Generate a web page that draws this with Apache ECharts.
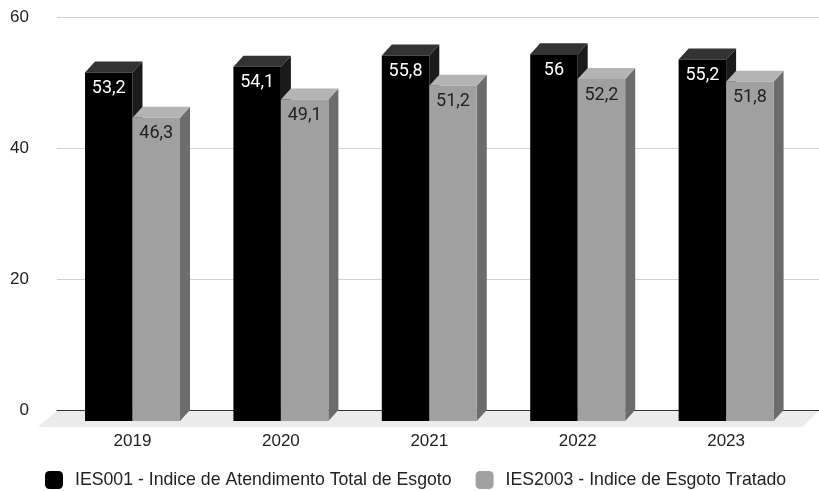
<!DOCTYPE html>
<html>
<head>
<meta charset="utf-8">
<script src="https://cdn.jsdelivr.net/npm/echarts@6/dist/echarts.min.js"></script>
<style>
  html, body { margin: 0; padding: 0; background: #fff; }
  #chart { width: 819px; height: 491px; }
</style>
</head>
<body>
<div id="chart"></div>
<script>
// Chart data
const years = ['2019', '2020', '2021', '2022', '2023'];
const atendimento = [53.2, 54.1, 55.8, 56, 55.2];
const tratado = [46.3, 49.1, 51.2, 52.2, 51.8];
const seriesNames = [
  'IES001 - Indice de Atendimento Total de Esgoto',
  'IES2003 - Indice de Esgoto Tratado'
];
const yTicks = { min: 0, max: 60, interval: 20 };

// 3D extrusion depth (pixels): back plane is offset right/up from the front plane
const DEPTH_X = 10;
const DEPTH_Y = 11;
const AXIS_FONT = '"Liberation Sans", Arial, sans-serif';
const LABEL_FONT = 'Roboto, "Noto Sans", sans-serif';

const palettes = [
  { front: '#000000', top: '#333333', side: '#1a1a1a', label: '#ffffff' },
  { front: '#a0a0a0', top: '#b4b4b4', side: '#6c6c6c', label: '#222222' }
];

function fmt(v) {
  return String(v).replace('.', ',');
}

function makeBarRenderer(seriesIdx) {
  const pal = palettes[seriesIdx];
  return function (params, api) {
    const cat = api.value(0);
    const val = api.value(1);
    const top = api.coord([cat, val]);
    const base = api.coord([cat, 0]);
    const band = api.size([1, 0])[0];
    const w = band * 0.32;
    const x0 = seriesIdx === 0 ? top[0] - w : top[0];
    const x1 = x0 + w;
    const yt = top[1];
    const yb = base[1];
    return {
      type: 'group',
      children: [
        {
          type: 'polygon',
          shape: { points: [[x1, yt], [x1 + DEPTH_X, yt - DEPTH_Y], [x1 + DEPTH_X, yb - DEPTH_Y], [x1, yb]] },
          style: { fill: pal.side }
        },
        {
          type: 'polygon',
          shape: { points: [[x0, yt], [x0 + DEPTH_X, yt - DEPTH_Y], [x1 + DEPTH_X, yt - DEPTH_Y], [x1, yt]] },
          style: { fill: pal.top }
        },
        {
          type: 'rect',
          shape: { x: x0, y: yt, width: w, height: yb - yt },
          style: { fill: pal.front }
        },
        {
          type: 'text',
          style: {
            x: (x0 + x1) / 2,
            y: yt + 16,
            text: fmt(val),
            fill: pal.label,
            font: '18px ' + LABEL_FONT,
            align: 'center',
            verticalAlign: 'middle'
          }
        }
      ]
    };
  };
}

// Light floor under the bars, derived from the back-plane grid rectangle
function renderFloor(params) {
  const cs = params.coordSys;
  const yb = cs.y + cs.height + 1;
  return {
    type: 'polygon',
    shape: {
      points: [
        [cs.x, yb],
        [cs.x + cs.width, yb],
        [cs.x + cs.width - 17, yb + 16],
        [cs.x - 19, yb + 16]
      ]
    },
    style: { fill: '#ebebeb' }
  };
}

const chart = echarts.init(document.getElementById('chart'), null, { renderer: 'canvas' });

chart.setOption({
  backgroundColor: '#ffffff',
  animation: false,
  textStyle: { fontFamily: AXIS_FONT },
  legend: {
    data: seriesNames,
    left: 40,
    top: 466,
    icon: 'roundRect',
    itemWidth: 18,
    itemHeight: 18,
    itemGap: 24,
    textStyle: { fontSize: 17.7, color: '#222', fontFamily: AXIS_FONT, padding: [0, 0, 0, 7] }
  },
  grid: [
    // back plane: gridlines, y labels, zero line
    { left: 57, right: 0, top: 17, bottom: 81 },
    // front plane: bar faces, category labels
    { left: 58.3, width: 742, top: 28, bottom: 70 }
  ],
  xAxis: [
    {
      gridIndex: 0, type: 'category', data: years,
      axisLine: { show: true, lineStyle: { color: '#333', width: 1 } },
      axisTick: { show: false }, axisLabel: { show: false }, splitLine: { show: false }
    },
    {
      gridIndex: 1, type: 'category', data: years,
      axisLine: { show: false }, axisTick: { show: false }, splitLine: { show: false },
      axisLabel: { color: '#222', fontSize: 17, fontFamily: AXIS_FONT, margin: 12 }
    }
  ],
  yAxis: [
    {
      gridIndex: 0, type: 'value', min: yTicks.min, max: yTicks.max, interval: yTicks.interval,
      axisLine: { show: false }, axisTick: { show: false },
      axisLabel: { color: '#222', fontSize: 17, fontFamily: AXIS_FONT, margin: 28 },
      splitLine: { lineStyle: { color: '#d0d0d0', width: 1 } }
    },
    {
      gridIndex: 1, type: 'value', min: yTicks.min, max: yTicks.max, interval: yTicks.interval,
      show: false, splitLine: { show: false }
    }
  ],
  series: [
    {
      type: 'custom', name: 'floor', xAxisIndex: 0, yAxisIndex: 0,
      renderItem: renderFloor, data: [[0, 0]], silent: true, z: 1
    },
    {
      type: 'custom', name: seriesNames[0], xAxisIndex: 1, yAxisIndex: 1,
      itemStyle: { color: palettes[0].front },
      renderItem: makeBarRenderer(0),
      encode: { x: 0, y: 1 },
      data: atendimento.map((v, i) => [i, v]), z: 3
    },
    {
      type: 'custom', name: seriesNames[1], xAxisIndex: 1, yAxisIndex: 1,
      itemStyle: { color: palettes[1].front },
      renderItem: makeBarRenderer(1),
      encode: { x: 0, y: 1 },
      data: tratado.map((v, i) => [i, v]), z: 4
    }
  ]
});
</script>
</body>
</html>
